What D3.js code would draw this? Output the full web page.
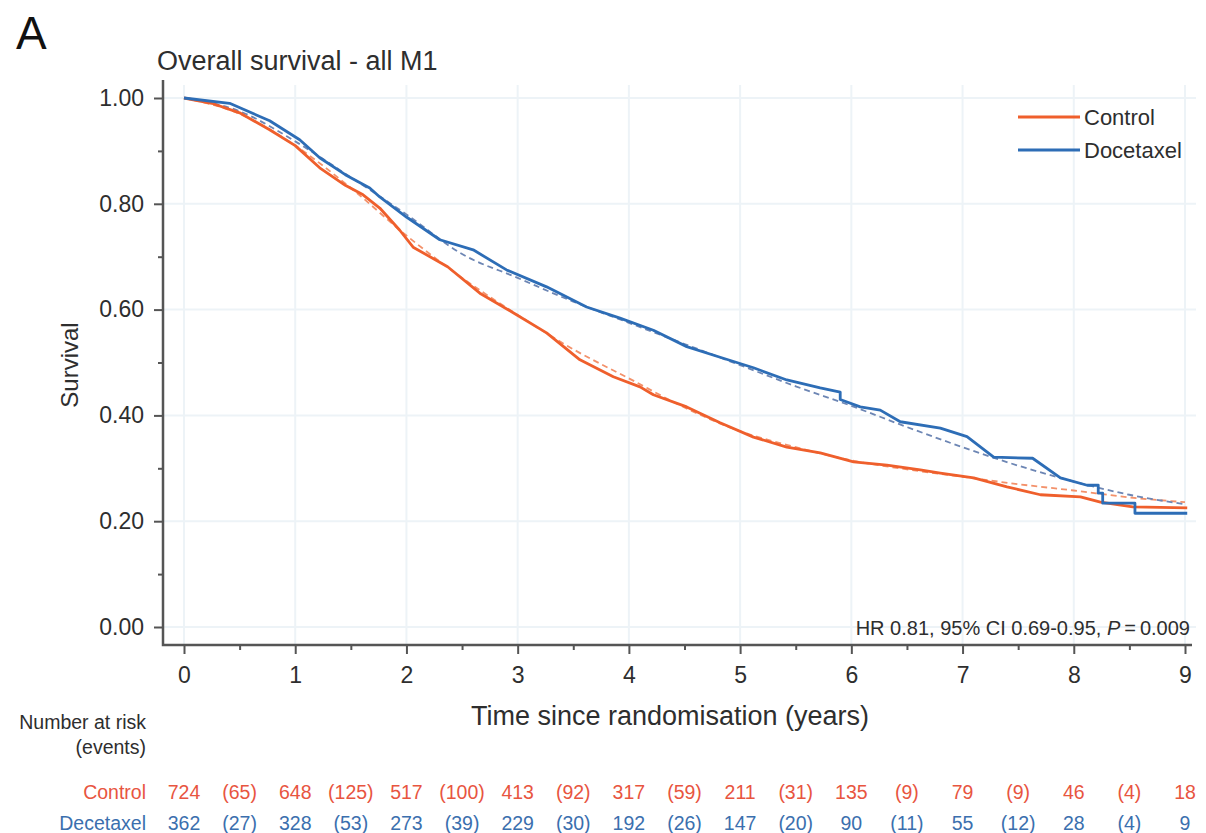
<!DOCTYPE html>
<html>
<head>
<meta charset="utf-8">
<script src="https://cdn.jsdelivr.net/npm/d3@7"></script>
<style>
  html, body { margin: 0; padding: 0; background: #fff; }
  svg { display: block; font-family: "Liberation Sans", Arial, Helvetica, sans-serif; }
</style>
</head>
<body>
<svg id="chart" width="1206" height="833"></svg>
<script>
// ---------------- data ----------------
const controlTimes = [0, 0.25, 0.5, 0.77, 1.0, 1.22, 1.45, 1.61, 1.76, 1.94, 2.06, 2.37, 2.66, 2.96, 3.26, 3.56, 3.86, 4.1, 4.22, 4.52, 4.82, 5.12, 5.42, 5.72, 6.02, 6.32, 6.62, 6.8, 7.1, 7.4, 7.7, 8.06, 8.24, 8.53, 9.02];
const controlSurv  = [1.0, 0.99, 0.972, 0.94, 0.91, 0.868, 0.835, 0.817, 0.792, 0.75, 0.718, 0.681, 0.631, 0.594, 0.556, 0.505, 0.473, 0.454, 0.439, 0.416, 0.386, 0.359, 0.34, 0.329, 0.312, 0.306, 0.297, 0.291, 0.282, 0.265, 0.25, 0.246, 0.236, 0.227, 0.225];

const docetaxelTimes = [0, 0.41, 0.77, 1.04, 1.22, 1.45, 1.67, 1.76, 2.0, 2.3, 2.6, 2.9, 3.26, 3.62, 3.92, 4.22, 4.52, 4.82, 5.12, 5.42, 5.72, 5.9, 5.9, 6.08, 6.26, 6.44, 6.8, 7.04, 7.28, 7.63, 7.88, 8.12, 8.22, 8.22, 8.26, 8.26, 8.55, 8.55, 9.02];
const docetaxelSurv  = [1.0, 0.99, 0.957, 0.921, 0.887, 0.855, 0.83, 0.813, 0.775, 0.732, 0.713, 0.675, 0.643, 0.605, 0.584, 0.561, 0.53, 0.51, 0.49, 0.467, 0.452, 0.444, 0.43, 0.416, 0.41, 0.388, 0.376, 0.36, 0.321, 0.319, 0.282, 0.268, 0.268, 0.253, 0.253, 0.234, 0.234, 0.215, 0.215];

const fitTimes         = [0, 0.5, 1.0, 1.5, 2.0, 2.5, 3.0, 3.5, 4.0, 4.5, 5.0, 5.5, 6.0, 6.5, 7.0, 7.5, 8.0, 8.5, 9.0];
const controlFit       = [1.0, 0.97, 0.91, 0.83, 0.74, 0.66, 0.59, 0.525, 0.47, 0.415, 0.37, 0.34, 0.315, 0.298, 0.284, 0.27, 0.258, 0.245, 0.236];
const docetaxelFit     = [1.0, 0.975, 0.918, 0.85, 0.78, 0.705, 0.66, 0.615, 0.575, 0.535, 0.495, 0.455, 0.418, 0.378, 0.34, 0.305, 0.275, 0.25, 0.232];

const xTicks = [0, 1, 2, 3, 4, 5, 6, 7, 8, 9];
const xMinorTicks = [0.5, 1.5, 2.5, 3.5, 4.5, 5.5, 6.5, 7.5, 8.5];
const yTicks = [0, 0.2, 0.4, 0.6, 0.8, 1.0];
const yMinorTicks = [0.1, 0.3, 0.5, 0.7, 0.9];

const riskTimes = [0, 0.5, 1, 1.5, 2, 2.5, 3, 3.5, 4, 4.5, 5, 5.5, 6, 6.5, 7, 7.5, 8, 8.5, 9];
const controlRisk   = ["724","(65)","648","(125)","517","(100)","413","(92)","317","(59)","211","(31)","135","(9)","79","(9)","46","(4)","18"];
const docetaxelRisk = ["362","(27)","328","(53)","273","(39)","229","(30)","192","(26)","147","(20)","90","(11)","55","(12)","28","(4)","9"];

const seriesNames = ["Control", "Docetaxel"];
const riskRowNames = ["Control", "Decetaxel"];

// ---------------- styles ----------------
const colControl = "#ef5f2c";
const colDoce = "#2d6db6";
const colControlFit = "#f3916a";
const colDoceFit = "#6d86b4";
const colText = "#2e2e2e";
const colGrid = "#edf3f7";
const colAxis = "#555555";
const FONT = '"Liberation Sans", Arial, sans-serif';

const svg = d3.select("#chart");
const x = d3.scaleLinear().domain([0, 9]).range([184, 1185]);
const y = d3.scaleLinear().domain([0, 1]).range([627, 98]);

const axisX0 = 163, axisY0 = 645;

// grid
const grid = svg.append("g");
grid.selectAll("line.vg").data(xTicks).enter().append("line")
  .attr("x1", d => x(d)).attr("x2", d => x(d))
  .attr("y1", 85).attr("y2", axisY0)
  .attr("stroke", colGrid).attr("stroke-width", 2);
grid.selectAll("line.hg").data(yTicks).enter().append("line")
  .attr("x1", axisX0).attr("x2", 1196)
  .attr("y1", d => y(d)).attr("y2", d => y(d))
  .attr("stroke", colGrid).attr("stroke-width", 2);

// axes
const yAxis = d3.axisLeft(y).tickValues(yTicks).tickFormat(d3.format(".2f")).tickSize(9).tickPadding(10);
const gy = svg.append("g").attr("transform", `translate(${axisX0},0)`).call(yAxis);
gy.select(".domain").remove();
gy.selectAll(".tick line").attr("stroke", colAxis).attr("stroke-width", 2);
gy.selectAll(".tick text").attr("fill", colText).style("font-size", "23px").style("font-family", FONT);
const yAxisMinor = d3.axisLeft(y).tickValues(yMinorTicks).tickFormat("").tickSize(5);
const gym = svg.append("g").attr("transform", `translate(${axisX0},0)`).call(yAxisMinor);
gym.select(".domain").remove();
gym.selectAll(".tick line").attr("stroke", colAxis).attr("stroke-width", 2);

const xAxis = d3.axisBottom(x).tickValues(xTicks).tickFormat(d3.format("d")).tickSize(9).tickPadding(13);
const gx = svg.append("g").attr("transform", `translate(0,${axisY0})`).call(xAxis);
gx.select(".domain").remove();
gx.selectAll(".tick line").attr("stroke", colAxis).attr("stroke-width", 2);
gx.selectAll(".tick text").attr("fill", colText).style("font-size", "23px").style("font-family", FONT);
const xAxisMinor = d3.axisBottom(x).tickValues(xMinorTicks).tickFormat("").tickSize(5);
const gxm = svg.append("g").attr("transform", `translate(0,${axisY0})`).call(xAxisMinor);
gxm.select(".domain").remove();
gxm.selectAll(".tick line").attr("stroke", colAxis).attr("stroke-width", 2);

// axis lines (L-shaped)
svg.append("path")
  .attr("d", `M${axisX0},80 L${axisX0},${axisY0} L1192,${axisY0}`)
  .attr("fill", "none").attr("stroke", colAxis).attr("stroke-width", 2.5);

// curves
const lineFn = d3.line().x(d => x(d[0])).y(d => y(d[1])).curve(d3.curveLinear);
const fitFn = d3.line().x(d => x(d[0])).y(d => y(d[1])).curve(d3.curveMonotoneX);

const zip = (a, b) => a.map((v, i) => [v, b[i]]);

svg.append("path").datum(zip(fitTimes, controlFit)).attr("d", fitFn)
  .attr("fill", "none").attr("stroke", colControlFit).attr("stroke-width", 1.8).attr("stroke-dasharray", "6,4");
svg.append("path").datum(zip(fitTimes, docetaxelFit)).attr("d", fitFn)
  .attr("fill", "none").attr("stroke", colDoceFit).attr("stroke-width", 1.8).attr("stroke-dasharray", "6,4");

svg.append("path").datum(zip(controlTimes, controlSurv)).attr("d", lineFn)
  .attr("fill", "none").attr("stroke", colControl).attr("stroke-width", 2.8).attr("stroke-linejoin", "round");
svg.append("path").datum(zip(docetaxelTimes, docetaxelSurv)).attr("d", lineFn)
  .attr("fill", "none").attr("stroke", colDoce).attr("stroke-width", 2.8).attr("stroke-linejoin", "round");

// legend
const legCols = [colControl, colDoce];
const leg = svg.append("g");
seriesNames.forEach((name, i) => {
  const ly = 117 + i * 33;
  leg.append("line").attr("x1", 1018).attr("x2", 1080).attr("y1", ly).attr("y2", ly)
    .attr("stroke", legCols[i]).attr("stroke-width", 3);
  leg.append("text").attr("x", 1084).attr("y", ly + 8).text(name)
    .attr("fill", colText).style("font-size", "22px");
});

// titles
svg.append("text").attr("x", 16).attr("y", 49).text("A")
  .attr("fill", "#111").style("font-size", "46px");
svg.append("text").attr("x", 157).attr("y", 70).text("Overall survival - all M1")
  .attr("fill", colText).style("font-size", "27px");
svg.append("text").attr("transform", "translate(78,365) rotate(-90)").attr("text-anchor", "middle")
  .text("Survival").attr("fill", colText).style("font-size", "24px");
svg.append("text").attr("x", 670).attr("y", 725).attr("text-anchor", "middle")
  .text("Time since randomisation (years)").attr("fill", colText).style("font-size", "27px");

// HR text
const hr = svg.append("text").attr("x", 1190).attr("y", 635).attr("text-anchor", "end")
  .attr("fill", colText).style("font-size", "20px");
hr.append("tspan").text("HR 0.81, 95% CI 0.69-0.95, ");
hr.append("tspan").style("font-style", "italic").text("P");
hr.append("tspan").text("\u2009=\u20090.009");

// risk table
svg.append("text").attr("x", 146).attr("y", 729).attr("text-anchor", "end")
  .text("Number at risk").attr("fill", colText).style("font-size", "19.5px");
svg.append("text").attr("x", 146).attr("y", 754).attr("text-anchor", "end")
  .text("(events)").attr("fill", colText).style("font-size", "19.5px");

const riskCols = ["#e8553f", "#3b6fae"];
const riskRows = [controlRisk, docetaxelRisk];
riskRows.forEach((row, r) => {
  const ry = 799 + r * 31;
  svg.append("text").attr("x", 146).attr("y", ry).attr("text-anchor", "end")
    .text(riskRowNames[r]).attr("fill", riskCols[r]).style("font-size", "19.5px");
  svg.append("g").selectAll("text").data(row).enter().append("text")
    .attr("x", (d, i) => x(riskTimes[i])).attr("y", ry).attr("text-anchor", "middle")
    .text(d => d).attr("fill", riskCols[r]).style("font-size", "19.5px");
});
</script>
</body>
</html>
